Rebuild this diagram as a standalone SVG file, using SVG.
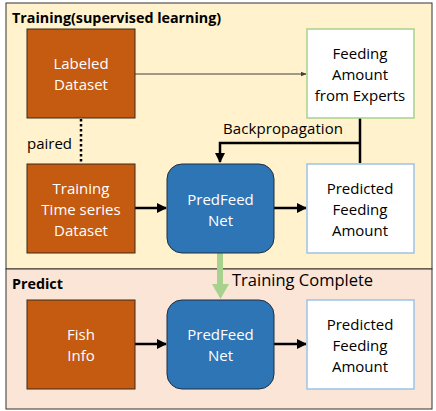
<svg xmlns="http://www.w3.org/2000/svg" width="436" height="411" viewBox="0 0 436 411">
<style>
text{font-family:"Open Sans","Noto Sans","DejaVu Sans",sans-serif;font-size:15px}
.w{fill:#fff}
.k{fill:#000}
.b{font-weight:bold;font-size:14.3px}
.org{fill:#C55A11;stroke:#3b2a1a;stroke-width:1}
.net{fill:#2E75B6;stroke:#1f2f40;stroke-width:1}
.out{fill:#fff;stroke:#9DC3E6;stroke-width:1.5}
.exp{fill:#fff;stroke:#A9D18E;stroke-width:1.5}
.c{stroke:#000;stroke-width:2.5;fill:none}
</style>
<defs>
<marker id="ah" viewBox="0 0 10 10" refX="9" refY="5" markerWidth="4" markerHeight="4" orient="auto"><path d="M0,0 L10,5 L0,10 z" fill="#000"/></marker>
<marker id="ahs" viewBox="0 0 10 10" refX="9" refY="5" markerWidth="6" markerHeight="6" orient="auto"><path d="M0,1 L10,5 L0,9 z" fill="#404040"/></marker>
</defs>
<rect x="6" y="3" width="426" height="266" fill="#FFF2CC" stroke="#333" stroke-width="1"/>
<rect x="6" y="269" width="426" height="140" fill="#FBE5D6" stroke="#333" stroke-width="1"/>
<text class="b" x="12" y="23">Training(supervised learning)</text>
<text class="b" x="12" y="289">Predict</text>
<g id="connectors">
<line x1="135" y1="74" x2="306" y2="74" stroke="#404040" stroke-width="1" marker-end="url(#ahs)"/>
<line x1="81" y1="119" x2="81" y2="163" stroke="#000" stroke-width="2.5" stroke-dasharray="2.5,2.5"/>
<polyline class="c" points="360,118 360,163"/>
<polyline class="c" points="360,143 220,143 220,162" marker-end="url(#ah)"/>
<line class="c" x1="135" y1="208" x2="166" y2="208" marker-end="url(#ah)"/>
<line class="c" x1="274" y1="208" x2="306" y2="208" marker-end="url(#ah)"/>
<line class="c" x1="135" y1="344" x2="166" y2="344" marker-end="url(#ah)"/>
<line class="c" x1="274" y1="344" x2="306" y2="344" marker-end="url(#ah)"/>
<rect x="217" y="253" width="6" height="32" fill="#A9D18E"/>
<polygon points="212,284 229,284 220.5,299" fill="#A9D18E"/>
<text class="k" x="223" y="134" textLength="120">Backpropagation</text>
<text class="k" x="27" y="149">paired</text>
<text class="k" x="232" y="286" style="font-size:16.5px">Training Complete</text>
</g>
<g id="labeled"><rect class="org" x="27" y="29" width="108" height="89"/><text class="w" x="81" y="69" text-anchor="middle">Labeled</text><text class="w" x="81" y="90" text-anchor="middle">Dataset</text></g>
<g id="experts"><rect class="exp" x="307" y="29" width="107" height="89"/><text class="k" x="360" y="59" text-anchor="middle">Feeding</text><text class="k" x="360" y="80" text-anchor="middle">Amount</text><text class="k" x="360" y="101" text-anchor="middle">from Experts</text></g>
<g id="tsdata"><rect class="org" x="27" y="164" width="108" height="89"/><text class="w" x="81" y="194" text-anchor="middle">Training</text><text class="w" x="81" y="215" text-anchor="middle">Time series</text><text class="w" x="81" y="236" text-anchor="middle">Dataset</text></g>
<g id="net1"><rect class="net" x="167" y="164" width="107" height="89" rx="15"/><text class="w" x="220.5" y="205" text-anchor="middle">PredFeed</text><text class="w" x="220.5" y="226" text-anchor="middle">Net</text></g>
<g id="pred1"><rect class="out" x="307" y="164" width="107" height="89"/><text class="k" x="360" y="194" text-anchor="middle">Predicted</text><text class="k" x="360" y="215" text-anchor="middle">Feeding</text><text class="k" x="360" y="236" text-anchor="middle">Amount</text></g>
<g id="fish"><rect class="org" x="27" y="300" width="108" height="89"/><text class="w" x="81" y="340" text-anchor="middle">Fish</text><text class="w" x="81" y="361" text-anchor="middle">Info</text></g>
<g id="net2"><rect class="net" x="167" y="300" width="107" height="89" rx="15"/><text class="w" x="220.5" y="340" text-anchor="middle">PredFeed</text><text class="w" x="220.5" y="361" text-anchor="middle">Net</text></g>
<g id="pred2"><rect class="out" x="307" y="300" width="107" height="89"/><text class="k" x="360" y="330" text-anchor="middle">Predicted</text><text class="k" x="360" y="351" text-anchor="middle">Feeding</text><text class="k" x="360" y="372" text-anchor="middle">Amount</text></g>
</svg>
